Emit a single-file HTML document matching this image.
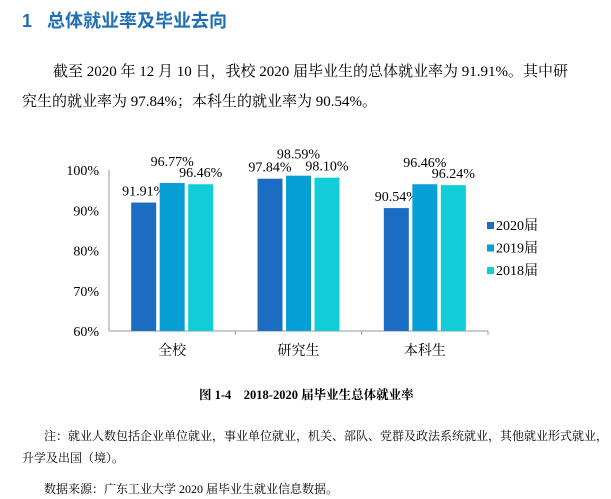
<!DOCTYPE html>
<html><head><meta charset="utf-8"><style>
body{margin:0;width:611px;height:499px;background:#fff;font-family:"Liberation Serif","Noto Serif CJK SC",serif;color:#000;position:relative;overflow:hidden}
.t{position:absolute;white-space:nowrap}
</style></head><body>
<div class="t" style="left:22px;top:7px;font-size:18px;font-weight:bold;color:#1f6fb4;font-family:'Liberation Sans','Noto Sans CJK SC',sans-serif">1&nbsp;&nbsp;&nbsp;总体就业率及毕业去向</div>
<div class="t" style="left:53px;top:60px;font-size:15px">截至 2020 年 12 月 10 日，我校 2020 届毕业生的总体就业率为 91.91%。其中研</div>
<div class="t" style="left:22px;top:90px;font-size:15px">究生的就业率为 97.84%；本科生的就业率为 90.54%。</div>
<svg id="chart" width="611" height="499" style="position:absolute;left:0;top:0"></svg>
<div class="t" style="left:199px;top:385px;font-size:12.5px;font-weight:bold">图 1-4&nbsp;&nbsp;&nbsp;&nbsp;2018-2020 届毕业生总体就业率</div>
<div class="t" style="left:44px;top:427px;font-size:12px">注：就业人数包括企业单位就业，事业单位就业，机关、部队、党群及政法系统就业，其他就业形式就业，</div>
<div class="t" style="left:22px;top:449px;font-size:12px">升学及出国（境）。</div>
<div class="t" style="left:44px;top:480px;font-size:12px">数据来源：广东工业大学 2020 届毕业生就业信息数据。</div>
<script>
const categories=["全校","研究生","本科生"];
const seriesNames=["2020届","2019届","2018届"];
const s2020=[91.91,97.84,90.54];
const s2019=[96.77,98.59,96.46];
const s2018=[96.46,98.10,96.24];
const yTicks=[60,70,80,90,100];
const colors=["#1b6dc4","#069fd6","#11cdd8"];
const svg=document.getElementById('chart');
const NS="http://www.w3.org/2000/svg";
const x0=109,x1=488,y0=331,y1=170,ymin=60,ymax=100;
const gw=(x1-x0)/categories.length;
function y(v){return y0-(v-ymin)/(ymax-ymin)*(y0-y1);}
function mk(t,a,txt){const e=document.createElementNS(NS,t);for(const k in a)e.setAttribute(k,a[k]);if(txt!==undefined)e.textContent=txt;svg.appendChild(e);return e;}
const font='"Liberation Serif","Noto Serif CJK SC",serif';
yTicks.forEach(v=>{
 const l=mk('text',{x:x0-10,y:y(v)+5,'text-anchor':'end','font-size':14,'font-family':font},v+'%');
 
 
});
const ax=mk('line',{x1:x0,y1:y1,x2:x0,y2:y0,stroke:'#999'});


const xa=mk('line',{x1:x0,y1:y0,x2:x1,y2:y0,stroke:'#999'});


const series=[s2020,s2019,s2018];
const bw=25,gap=3.5;
categories.forEach((c,i)=>{
 const cx=x0+gw*(i+0.5);
 const t=mk('line',{x1:x0+gw*(i+1),y1:y0,x2:x0+gw*(i+1),y2:y0+4,stroke:'#999'});
 
 
 const lb=mk('text',{x:cx,y:y0+24,'text-anchor':'middle','font-size':14,'font-family':font},c);
 
 
 series.forEach((s,j)=>{
  const bx=cx+(j-1)*(bw+gap)-bw/2;
  const r=mk('rect',{x:bx,y:y(s[i]),width:bw,height:y0-y(s[i]),fill:colors[j]});
  
  
  const dy=j===1?-17:-7;
  const v=mk('text',{x:bx+bw/2,y:y(s[i])+dy,'text-anchor':'middle','font-size':14,'font-family':font},s[i].toFixed(2)+'%');
  
  
 });
});
seriesNames.forEach((n,j)=>{
 const ly=222+j*22.5;
 const sq=mk('rect',{x:487,y:ly,width:7,height:7,fill:colors[j]});
 
 
 const lt=mk('text',{x:496,y:ly+8,'font-size':14,'font-family':font},n);
 
 
});
</script>
</body></html>
